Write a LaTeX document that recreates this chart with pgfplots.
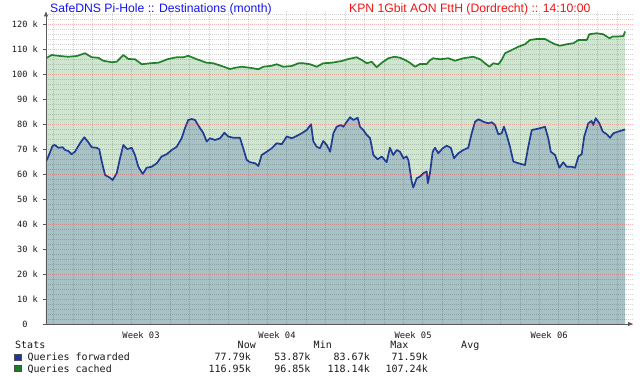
\documentclass[border=0pt]{standalone}
\usepackage{pgfplots}
\usepackage{pgfplotstable}
\pgfplotsset{compat=1.18}
\usepackage{fontspec}
\usetikzlibrary{arrows.meta}
\setmainfont{Liberation Sans}
\newfontfamily\mono{DejaVu Sans Mono}
\definecolor{greenfill}{RGB}{208,229,208}
\definecolor{bluefill}{RGB}{168,193,196}
\definecolor{greenline}{RGB}{34,132,42}
\definecolor{blueline}{RGB}{32,62,150}
\definecolor{titleblue}{RGB}{20,20,240}
\definecolor{titlered}{RGB}{240,20,20}
\definecolor{legblue}{RGB}{30,50,170}
\definecolor{leggreen}{RGB}{30,125,40}

\pgfplotstableread{
x y
0 65.0
0.12 67.0
0.34 71.3
0.46 71.6
0.63 70.5
0.86 70.7
0.98 69.6
1.15 69.2
1.32 67.9
1.49 68.9
1.75 72.3
1.97 74.7
2.18 72.7
2.35 70.7
2.61 70.5
2.74 69.9
2.87 65.0
3.04 59.6
3.29 58.5
3.43 57.6
3.64 60.3
3.81 66.3
3.98 71.6
4.18 69.9
4.41 70.5
4.58 67.6
4.75 62.9
4.98 60.0
5.18 62.5
5.44 62.9
5.70 64.3
5.95 67.0
6.21 67.9
6.47 69.6
6.73 70.9
6.98 74.3
7.15 78.3
7.32 81.6
7.50 82.0
7.67 81.6
7.93 78.3
8.10 76.3
8.27 73.0
8.44 74.3
8.70 73.6
8.96 74.3
9.18 76.5
9.38 75.0
9.64 74.5
9.98 74.5
10.15 70.3
10.33 65.6
10.50 64.7
10.76 64.3
10.93 63.2
11.10 67.6
11.36 68.9
11.62 70.3
11.87 72.3
12.13 71.9
12.39 75.0
12.65 74.3
12.90 75.2
13.16 76.3
13.42 77.6
13.64 79.9
13.76 73.0
13.93 70.9
14.10 70.3
14.27 73.2
14.45 71.6
14.62 68.9
14.79 76.3
14.96 78.9
15.18 79.6
15.30 78.9
15.48 80.9
15.65 82.7
15.82 81.6
16.04 82.5
16.16 78.9
16.33 77.6
16.51 75.6
16.68 74.3
16.85 67.6
17.07 65.9
17.28 67.0
17.53 64.7
17.70 70.5
17.87 67.6
18.05 69.6
18.22 68.9
18.39 66.3
18.56 67.0
18.65 65.6
18.82 57.0
18.90 54.6
19.08 58.3
19.25 59.0
19.42 60.3
19.59 61.0
19.65 56.3
19.76 60.3
19.90 68.9
20.02 70.5
20.19 68.3
20.42 70.3
20.62 71.3
20.83 70.5
21.00 66.3
21.22 68.3
21.48 69.6
21.73 70.5
21.91 76.3
22.08 80.9
22.25 81.9
22.51 80.9
22.76 80.3
22.94 80.7
23.11 79.6
23.28 75.9
23.45 76.3
23.57 78.9
23.71 75.6
23.88 70.9
24.05 65.0
24.31 64.3
24.65 63.6
24.82 70.9
25.00 77.6
25.25 78.0
25.51 78.5
25.68 78.9
25.85 74.3
25.98 68.9
26.20 67.6
26.42 62.5
26.62 64.7
26.80 62.9
27.06 62.9
27.23 62.5
27.40 67.0
27.57 67.9
27.70 75.0
27.91 80.3
28.08 81.2
28.16 79.6
28.29 82.3
28.48 80.3
28.65 77.0
28.86 75.9
29.03 74.5
29.20 76.3
29.46 77.0
29.80 77.8
}\forwarded

\pgfplotstableread{
x y
0 106.3
0.29 107.6
0.72 107.2
1.15 106.9
1.58 107.2
2.01 108.3
2.35 106.7
2.69 106.5
2.95 105.3
3.38 104.7
3.64 104.9
3.98 107.6
4.24 106.0
4.58 105.9
4.93 103.9
5.35 104.3
5.78 104.5
6.29 106.0
6.73 106.7
7.07 106.7
7.32 107.3
7.76 105.9
8.27 104.5
8.61 104.3
9.04 103.2
9.47 102.0
9.73 102.5
10.07 102.9
10.50 102.5
10.93 101.9
11.18 102.9
11.62 103.3
11.87 103.9
12.21 102.9
12.65 103.2
12.99 104.3
13.24 104.3
13.59 103.9
13.93 102.9
14.27 104.3
14.70 104.5
15.22 105.2
15.56 106.0
15.99 106.7
16.25 105.6
16.51 104.3
16.76 104.9
17.02 102.7
17.28 104.5
17.62 106.3
17.93 106.9
18.22 106.5
18.48 105.6
18.73 104.5
18.99 102.9
19.25 104.0
19.59 104.0
19.76 105.5
19.93 106.3
20.28 105.9
20.71 106.3
21.05 105.3
21.48 106.3
21.99 106.9
22.34 105.9
22.59 104.3
22.82 102.9
23.02 104.3
23.28 103.9
23.45 105.6
23.62 108.3
23.97 109.6
24.31 110.9
24.65 111.9
24.91 113.6
25.25 114.0
25.68 114.0
25.94 112.9
26.20 111.9
26.45 111.3
26.80 111.9
27.14 112.3
27.40 113.6
27.83 113.6
27.96 115.9
28.34 116.3
28.68 115.9
29.00 114.3
29.17 115.0
29.43 115.0
29.72 115.2
29.80 117.0
}\cached

\begin{document}
\begin{tikzpicture}[x=1pt,y=1pt]
\useasboundingbox (0,0) rectangle (640,380);
\begin{axis}[
  at={(46pt,56pt)}, anchor=south west,
  scale only axis, width=587pt, height=312.5pt,
  xmin=0, xmax=30.21, ymin=0, ymax=125,
  axis lines=left,
  axis line style={black!65, line width=0.8pt, -{Triangle[length=5pt,width=4pt]}},
  axis on top,
  xtick={4.89,11.89,18.89,25.89},
  xticklabels={Week 03,Week 04,Week 05,Week 06},
  xtick style={draw=none},
  minor xtick={0.39,2.39,3.39,4.39,5.39,6.39,7.39,9.39,10.39,11.39,12.39,13.39,14.39,16.39,17.39,18.39,19.39,20.39,21.39,23.39,24.39,25.39,26.39,27.39,28.39},
  extra x ticks={1.39,8.39,15.39,22.39,29.39},
  extra x tick labels={,,,,},
  extra x tick style={xmajorgrids=true, major tick length=0pt},
  ytick={0,10,...,120},
  yticklabels={0\phantom{~k},10~k,20~k,30~k,40~k,50~k,60~k,70~k,80~k,90~k,100~k,110~k,120~k},
  minor ytick={2,4,6,8,12,14,16,18,22,24,26,28,32,34,36,38,42,44,46,48,52,54,56,58,62,64,66,68,72,74,76,78,82,84,86,88,92,94,96,98,102,104,106,108,112,114,116,118,122,124},
  xmajorgrids=false, xminorgrids=true,
  ymajorgrids=true, yminorgrids=true,
  major grid style={red!75, opacity=0.38, line width=0.7pt, dash pattern=on 1pt off 1pt},
  minor grid style={black, opacity=0.17, line width=0.7pt, dash pattern=on 1pt off 1pt},
  tick align=outside, major tick length=3pt, minor tick length=0pt,
  ytick style={black!65, line width=0.7pt},
  yticklabel style={font=\mono\fontsize{8.6}{10}\selectfont, text=black!90, inner sep=0pt, anchor=east},
  xticklabel style={font=\mono\fontsize{8.8}{10}\selectfont, text=black!90, inner sep=0pt, anchor=north},
  yticklabel shift=5pt,
  xticklabel shift=5pt,
]
\addplot[draw=none, fill=greenfill, forget plot] table {\cached} \closedcycle;
\addplot[draw=none, fill=bluefill, forget plot] table {\forwarded} \closedcycle;
\addplot[greenline, line width=1.7pt, line join=round] table {\cached};
\addplot[blueline, line width=1.7pt, line join=round] table {\forwarded};
\end{axis}
% titles
\node[anchor=base west, inner sep=0pt, text=titleblue, font=\fontsize{12.2}{14}\selectfont] at (50,367) {SafeDNS Pi-Hole :: Destinations (month)};
\node[anchor=base west, inner sep=0pt, text=titlered, font=\fontsize{12.2}{14}\selectfont] at (349,367) {KPN 1Gbit AON FttH (Dordrecht) :: 14:10:00};
% legend
\begin{scope}[every node/.style={inner sep=0pt, font=\mono\fontsize{10}{12}\selectfont, text=black!90}]
\node[anchor=base west] at (15,31) {Stats};
\node[anchor=base east] at (256,31) {Now};
\node[anchor=base east] at (332,31) {Min};
\node[anchor=base east] at (408.6,31) {Max};
\node[anchor=base east] at (479.5,31) {Avg};
\node[fill=legblue, draw=black!70, line width=0.4pt, minimum width=6.5pt, minimum height=6.5pt, anchor=south west] at (14,19.5) {};
\node[anchor=base west] at (27.3,19.2) {Queries forwarded};
\node[anchor=base east] at (251,19.2) {77.79k};
\node[anchor=base east] at (310.7,19.2) {53.87k};
\node[anchor=base east] at (370,19.2) {83.67k};
\node[anchor=base east] at (428,19.2) {71.59k};
\node[fill=leggreen, draw=black!70, line width=0.4pt, minimum width=6.5pt, minimum height=6.5pt, anchor=south west] at (14,8.1) {};
\node[anchor=base west] at (27.3,7.8) {Queries cached};
\node[anchor=base east] at (251,7.8) {116.95k};
\node[anchor=base east] at (310.7,7.8) {96.85k};
\node[anchor=base east] at (370,7.8) {118.14k};
\node[anchor=base east] at (428,7.8) {107.24k};
\end{scope}
\end{tikzpicture}
\end{document}
